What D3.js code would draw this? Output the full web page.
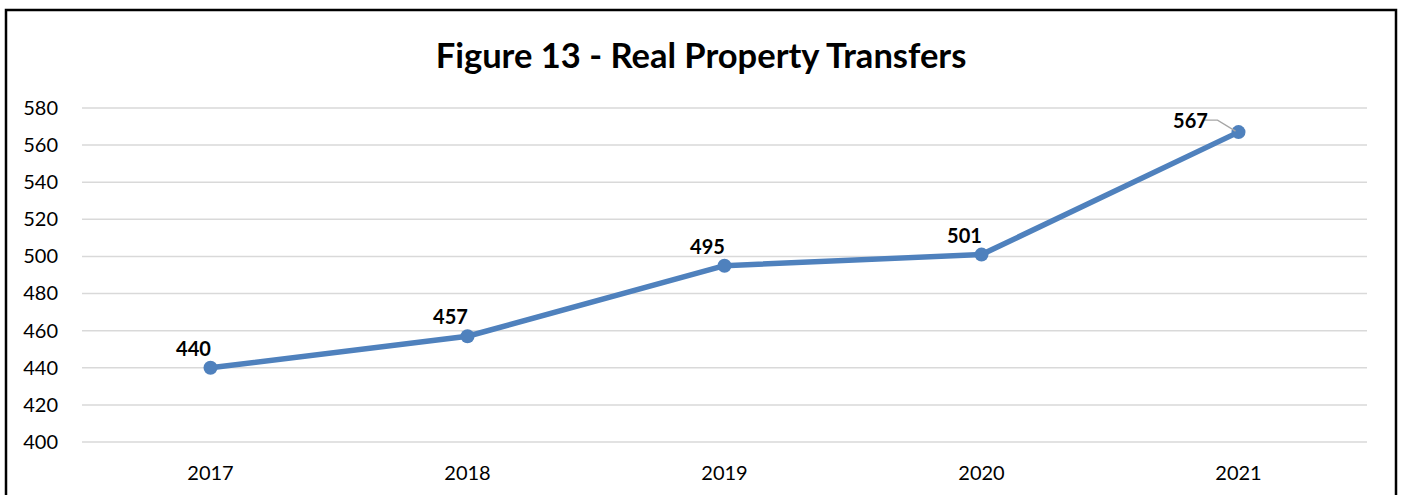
<!DOCTYPE html>
<html>
<head>
<meta charset="utf-8">
<script src="https://cdn.jsdelivr.net/npm/d3@7"></script>
<style>
  body { margin: 0; background: #fff; }
  text { font-family: Lato, "Open Sans", sans-serif; }
</style>
</head>
<body>
<div class="chart"></div>
<script>
var years = ["2017", "2018", "2019", "2020", "2021"];
var transfers = [440, 457, 495, 501, 567];
var yTicks = [400, 420, 440, 460, 480, 500, 520, 540, 560, 580];

var svgWidth = 1401;
var svgHeight = 495;

var margin = { top: 108, right: 34, bottom: 53, left: 82 };
var width = svgWidth - margin.left - margin.right;
var height = svgHeight - margin.top - margin.bottom;

var svg = d3.select(".chart")
  .append("svg")
  .attr("width", svgWidth)
  .attr("height", svgHeight);

// outer frame (bottom edge is cut off in the original)
svg.append("path")
  .attr("d", "M6,500 L6,10 L1396,10 L1396,500")
  .attr("fill", "none")
  .attr("stroke", "#000")
  .attr("stroke-width", 2.5);

svg.append("text")
  .attr("x", 701)
  .attr("y", 68)
  .attr("text-anchor", "middle")
  .attr("font-size", 34.5)
  .attr("font-weight", "bold")
  .text("Figure 13 - Real Property Transfers");

var chartGroup = svg.append("g")
  .attr("transform", `translate(${margin.left}, ${margin.top})`);

var xScale = d3.scaleBand()
  .domain(years)
  .range([0, width]);

var yScale = d3.scaleLinear()
  .domain([400, 580])
  .range([height, 0]);

// gridlines
chartGroup.append("g")
  .selectAll("line")
  .data(yTicks)
  .enter()
  .append("line")
  .attr("x1", 0)
  .attr("x2", width)
  .attr("y1", d => yScale(d))
  .attr("y2", d => yScale(d))
  .attr("stroke", "#d9d9d9")
  .attr("stroke-width", 1.5);

var leftAxis = d3.axisLeft(yScale).tickValues(yTicks).tickSize(0).tickPadding(24);
var yAxis = chartGroup.append("g").call(leftAxis);
yAxis.select(".domain").remove();
yAxis.selectAll("text")
  .attr("font-size", 20)
  .attr("fill", "#000")
  .style("font-family", "Lato, sans-serif");

var bottomAxis = d3.axisBottom(xScale).tickSize(0).tickPadding(24);
var xAxis = chartGroup.append("g")
  .attr("transform", `translate(0, ${height})`)
  .call(bottomAxis);
xAxis.select(".domain").remove();
xAxis.selectAll("text")
  .attr("font-size", 20)
  .attr("fill", "#000")
  .style("font-family", "Lato, sans-serif");

var cx = (d, i) => xScale(years[i]) + xScale.bandwidth() / 2;

var line = d3.line()
  .x(cx)
  .y(d => yScale(d));

chartGroup.append("path")
  .datum(transfers)
  .attr("d", line)
  .attr("fill", "none")
  .attr("stroke", "#4f81bd")
  .attr("stroke-width", 5.5)
  .attr("stroke-linejoin", "round");

chartGroup.selectAll("circle")
  .data(transfers)
  .enter()
  .append("circle")
  .attr("cx", cx)
  .attr("cy", d => yScale(d))
  .attr("r", 7)
  .attr("fill", "#4f81bd");

// leader line for the last label
var last = transfers.length - 1;
var lx = cx(transfers[last], last);
var ly = yScale(transfers[last]);
chartGroup.append("polyline")
  .attr("points", `${lx - 34},${ly - 12} ${lx - 21},${ly - 12} ${lx - 3},${ly - 1}`)
  .attr("fill", "none")
  .attr("stroke", "#a6a6a6")
  .attr("stroke-width", 1.3);

chartGroup.selectAll(".dataLabel")
  .data(transfers)
  .enter()
  .append("text")
  .attr("class", "dataLabel")
  .attr("x", (d, i) => i === last ? cx(d, i) - 48 : cx(d, i) - 17)
  .attr("y", (d, i) => i === last ? yScale(d) - 4 : yScale(d) - 12)
  .attr("text-anchor", "middle")
  .attr("font-size", 20)
  .attr("font-weight", "bold")
  .text(d => d);
</script>
</body>
</html>
